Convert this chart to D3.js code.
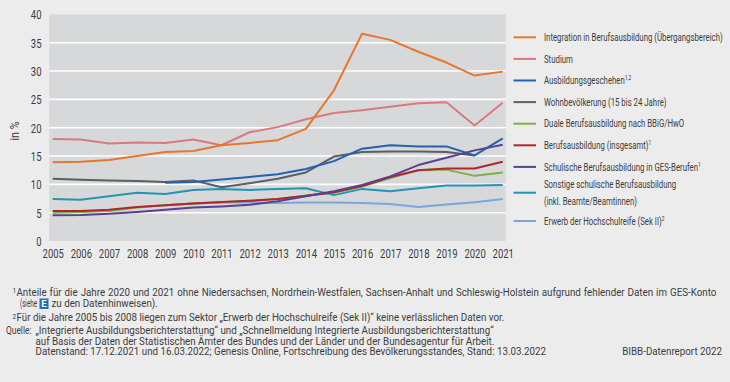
<!DOCTYPE html>
<html><head><meta charset="utf-8">
<script src="https://cdn.jsdelivr.net/npm/d3@7"></script>
<style>
html,body{margin:0;padding:0;background:#ececed;}
svg{display:block;}
text{font-family:Roboto,"Liberation Sans",sans-serif;fill:#3c3c3c;}
</style></head>
<body>
<svg id="c" width="730" height="382"></svg>
<script>
const years = [2005,2006,2007,2008,2009,2010,2011,2012,2013,2014,2015,2016,2017,2018,2019,2020,2021];
const yTicks = [0,5,10,15,20,25,30,35,40];

const integration = [13.9,14.0,14.3,15.0,15.7,15.9,16.9,17.3,17.8,19.8,26.6,36.6,35.5,33.4,31.5,29.2,29.9];
const studium = [18.0,17.9,17.2,17.4,17.3,17.9,16.9,19.2,20.1,21.5,22.6,23.1,23.7,24.3,24.5,20.4,24.4];
const ausbildungsgeschehen = [null,null,null,null,10.3,10.4,10.85,11.3,11.8,12.7,14.1,16.3,16.9,16.7,16.7,15.1,18.1];
const wohnbevoelkerung = [11.0,10.8,10.7,10.6,10.4,10.7,9.5,10.2,11.0,12.1,14.9,15.7,15.8,15.8,15.7,15.1,null];
const duale = [5.0,5.1,5.3,5.9,6.3,6.6,6.85,7.1,7.4,8.0,8.5,9.6,11.1,12.5,12.6,11.5,12.1];
const berufsausbildung = [5.3,5.3,5.5,6.0,6.3,6.6,6.9,7.1,7.4,8.0,8.6,9.7,11.3,12.5,12.8,12.8,14.0];
const schulischeGES = [4.55,4.6,4.8,5.1,5.5,5.9,6.1,6.4,7.0,7.9,8.8,9.9,11.4,13.4,14.7,16.0,17.0];
const sonstige = [7.4,7.3,7.9,8.5,8.3,9.0,9.2,9.0,9.2,9.3,8.1,9.2,8.8,9.3,9.8,9.8,9.9];
const hochschulreife = [null,null,null,null,6.3,6.6,6.8,6.8,6.7,6.8,6.8,6.7,6.55,6.0,6.45,6.85,7.4];

const seriesNames = [
  ["Integration in Berufsausbildung (Übergangsbereich)"],
  ["Studium"],
  ["Ausbildungsgeschehen", "1,2"],
  ["Wohnbevölkerung (15 bis 24 Jahre)"],
  ["Duale Berufsausbildung nach BBiG/HwO"],
  ["Berufsausbildung (insgesamt)", "1"],
  ["Schulische Berufsausbildung in GES-Berufen", "1"],
  ["Sonstige schulische Berufsausbildung", null, "(inkl. Beamte/Beamtinnen)"],
  ["Erwerb der Hochschulreife (Sek II)", "2"]
];
const seriesValues = [integration, studium, ausbildungsgeschehen, wohnbevoelkerung, duale, berufsausbildung, schulischeGES, sonstige, hochschulreife];
const seriesColors = ["#e8772a","#d97a7e","#1f63b2","#5e5e60","#7eb043","#b3242e","#5a3f92","#2196b3","#7aa8da"];
const drawOrder = [1,3,2,7,8,4,5,6,0];

const svg = d3.select("#c");
const x = d3.scaleLinear().domain([2005,2021]).range([52.7,502.7]);
const y = d3.scaleLinear().domain([0,40]).range([241,14.4]);

function squeeze(sel, k) {
  sel.each(function(){
    const ax = +this.getAttribute("x") || 0;
    d3.select(this).attr("transform", `translate(${ax},0) scale(${k},1) translate(${-ax},0)`);
  });
}
function fit(sel, target) {
  const w = sel.node().getBBox().width;
  squeeze(sel, target / w);
  return target / w;
}

// plot background
svg.append("rect").attr("x",x(2005)-3.4).attr("y",y(40)).attr("width",x(2021)-x(2005)+6.4).attr("height",y(0)-y(40))
  .attr("fill","#d7d8da");
svg.append("g").selectAll("line").data(yTicks.filter(d=>d>0&&d<40)).join("line")
  .attr("x1",x(2005)-3.4).attr("x2",x(2021)+3)
  .attr("y1",d=>y(d)).attr("y2",d=>y(d)).attr("stroke","#ffffff").attr("stroke-width",1.6);

// axes
const yAxis = d3.axisLeft(y).tickValues(yTicks).tickSize(0).tickPadding(0);
const gy = svg.append("g").attr("transform","translate(41.5,0)").call(yAxis);
gy.select(".domain").remove();
gy.selectAll("text").attr("font-size","12.5px").attr("fill","#3c3c3c").attr("dy","0.36em")
  .style("font-family","Roboto,sans-serif");

const xAxis = d3.axisBottom(x).tickValues(years).tickFormat(d3.format("d")).tickSize(0).tickPadding(0);
const gx = svg.append("g").attr("transform","translate(0,249.5)").call(xAxis);
gx.select(".domain").remove();
gx.selectAll("text").attr("font-size","12.5px").attr("fill","#3c3c3c").attr("dy","0.71em")
  .style("font-family","Roboto,sans-serif");
const kTick = 21.3 / gx.select("text").node().getBBox().width;
squeeze(gx.selectAll("text"), kTick);
squeeze(gy.selectAll("text"), kTick);

const yl = svg.append("text").attr("transform","translate(18.5,131) rotate(-90)").attr("text-anchor","middle")
  .attr("font-size","12.5px").text("in %");
{ const w = yl.node().getBBox().width; yl.attr("transform",`translate(18.5,131) rotate(-90) scale(${19/w},1)`); }

// lines
const line = d3.line().defined(d=>d[1]!=null).x(d=>x(d[0])).y(d=>y(d[1]));
drawOrder.forEach(i=>{
  svg.append("path").datum(years.map((yr,j)=>[yr,seriesValues[i][j]]))
    .attr("d",line).attr("fill","none").attr("stroke",seriesColors[i])
    .attr("stroke-width",2).attr("stroke-linejoin","round");
});

// legend
const legY = [37.3,58.9,80.5,102.1,123.7,145.3,166.9,192.7,221];
const legTexts = [];
seriesNames.forEach((nm,i)=>{
  const g = svg.append("g");
  g.append("line").attr("x1",513.5).attr("x2",536).attr("y1",legY[i]).attr("y2",legY[i])
    .attr("stroke",seriesColors[i]).attr("stroke-width",2);
  if (nm[2]) {
    legTexts.push(g.append("text").attr("x",544).attr("y",legY[i]-8.5).attr("dy","0.35em").attr("font-size","10.5px").text(nm[0]));
    legTexts.push(g.append("text").attr("x",544).attr("y",legY[i]+8.5).attr("dy","0.35em").attr("font-size","10.5px").text(nm[2]));
  } else {
    const t = g.append("text").attr("x",544).attr("y",legY[i]).attr("dy","0.35em").attr("font-size","10.5px").text(nm[0]);
    if (nm[1]) t.append("tspan").attr("font-size","6.5px").attr("dy","-4").text(nm[1]);
    legTexts.push(t);
  }
});
const kLeg = 178.7 / legTexts[0].node().getBBox().width;
legTexts.forEach(t=>squeeze(t,kLeg));

// footnotes
const fs = "10px";
const foot = [];
function ft(xp, yp, txt, anchor) {
  const t = svg.append("text").attr("x",xp).attr("y",yp).attr("font-size",fs).text(txt);
  if (anchor) t.attr("text-anchor",anchor);
  foot.push(t); return t;
}
svg.append("text").attr("x",12.5).attr("y",293).attr("font-size","6.5px").text("1");
const l1 = ft(16.5,296,"Anteile für die Jahre 2020 und 2021 ohne Niedersachsen, Nordrhein-Westfalen, Sachsen-Anhalt und Schleswig-Holstein aufgrund fehlender Daten im GES-Konto");
const siehe = svg.append("text").attr("x",20).attr("y",307.5).attr("font-size",fs).text("(siehe");
svg.append("rect").attr("x",39.5).attr("y",298.5).attr("width",9).attr("height",10.5).attr("fill","#1a72b8");
svg.append("text").attr("x",44).attr("y",307.3).attr("text-anchor","middle").attr("font-size","9.5px")
  .attr("font-weight","bold").style("fill","#ffffff").text("E");
const zu = ft(51.5,307.5,"zu den Datenhinweisen).");
svg.append("text").attr("x",12.5).attr("y",318.5).attr("font-size","6.5px").text("2");
const l3 = ft(16.5,321.5,"Für die Jahre 2005 bis 2008 liegen zum Sektor „Erwerb der Hochschulreife (Sek II)“ keine verlässlichen Daten vor.");
const q = svg.append("text").attr("x",6).attr("y",334.5).attr("font-size",fs).text("Quelle:");
const l4 = ft(35.5,334.5,"„Integrierte Ausbildungsberichterstattung“ und „Schnellmeldung Integrierte Ausbildungsberichterstattung“");
const l5 = ft(35.5,345,"auf Basis der Daten der Statistischen Ämter des Bundes und der Länder und der Bundesagentur für Arbeit.");
const l6 = ft(35.5,355.5,"Datenstand: 17.12.2021 und 16.03.2022; Genesis Online, Fortschreibung des Bevölkerungsstandes, Stand: 13.03.2022");
const bibb = ft(722,355.5,"BIBB-Datenreport 2022","end");

const kFoot = 512 / l6.node().getBBox().width;
foot.forEach(t=>squeeze(t,kFoot));
fit(siehe, 17);
fit(q, 25.5);
{
  const w = l1.node().getBBox().width * kFoot;
  const target = 716.7 - 16.5;
  const nSp = (l1.text().match(/ /g) || []).length;
  l1.attr("word-spacing", ((target - w) / nSp / kFoot) + "px");
}
</script>
</body></html>
